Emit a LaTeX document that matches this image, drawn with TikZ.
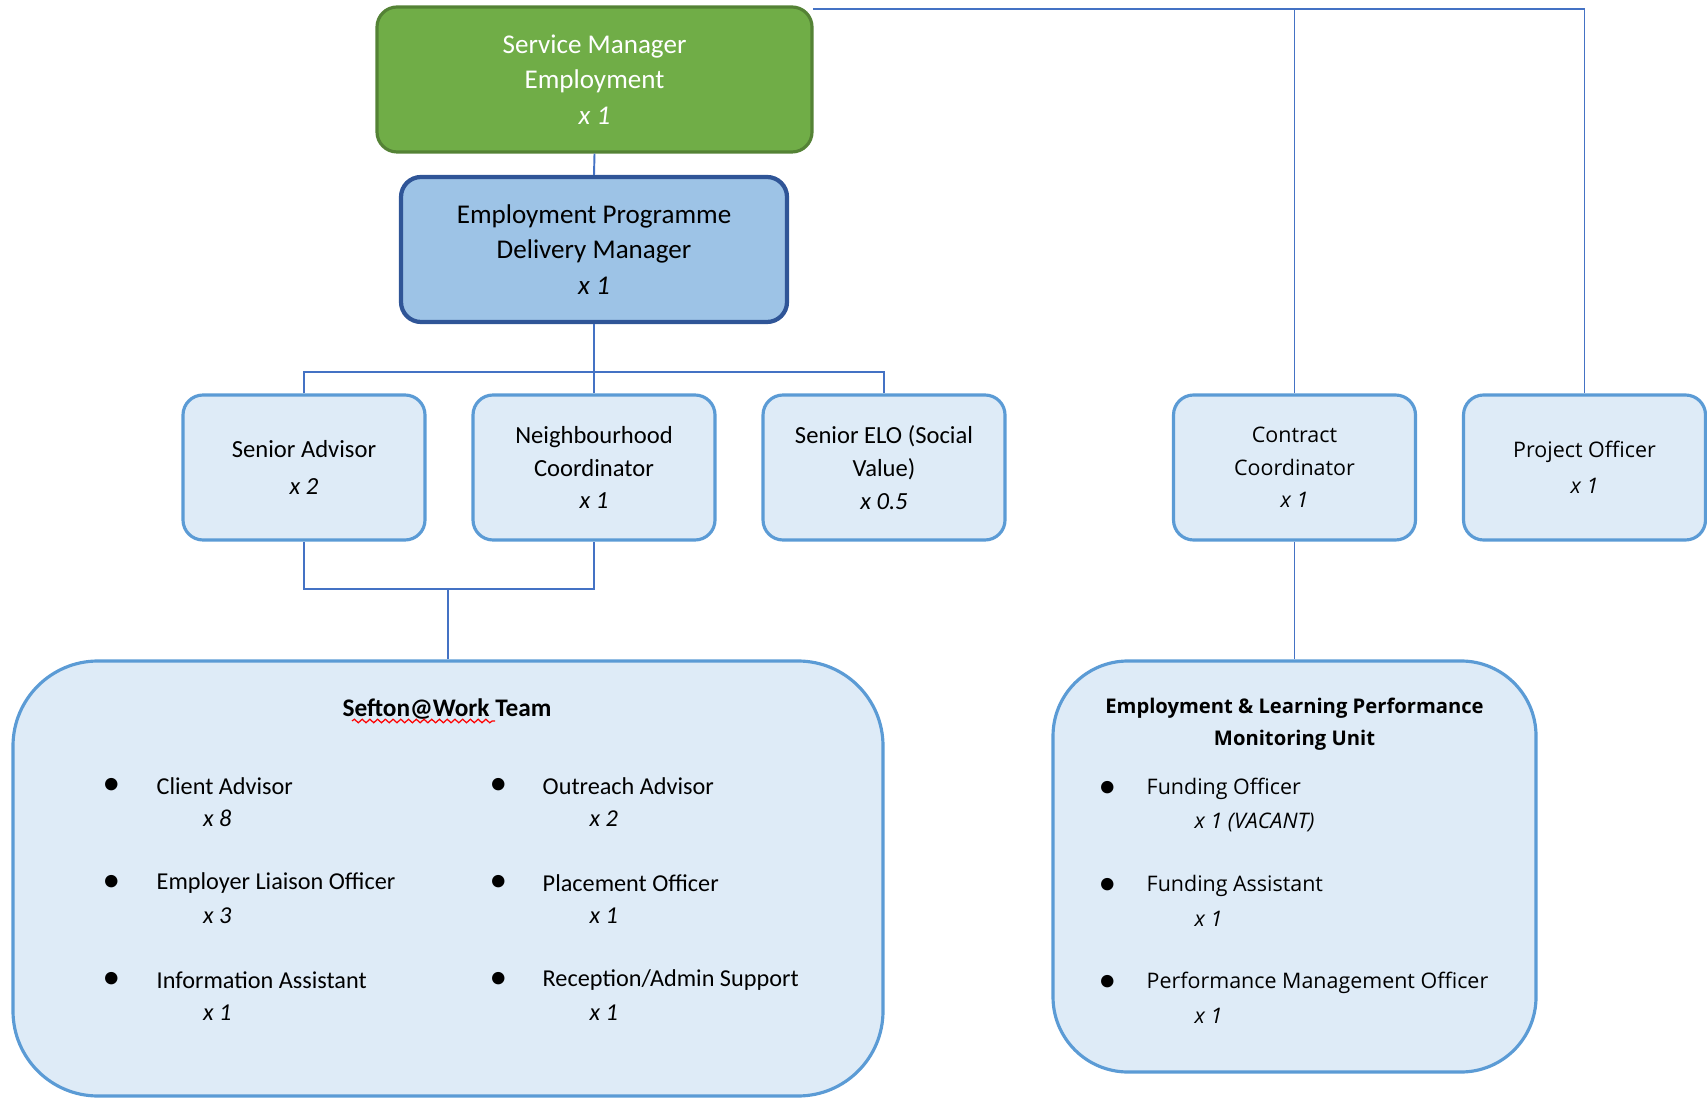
\documentclass[tikz,border=0pt]{standalone}
\usepackage{fontspec}
\setmainfont{Carlito}
\newfontfamily\widefont{Open Sans}
\usepackage{xcolor}
\usetikzlibrary{positioning}
\usetikzlibrary{decorations.pathmorphing}
\definecolor{smfill}{HTML}{70AD47}
\definecolor{smline}{HTML}{548235}
\definecolor{epdmfill}{HTML}{9DC3E6}
\definecolor{epdmline}{HTML}{2F5597}
\definecolor{rolefill}{HTML}{DEEBF7}
\definecolor{roleline}{HTML}{5B9BD5}
\definecolor{linkblue}{HTML}{4472C4}
\tikzset{
boxedge/.style={line width=0.9pt},
headbox/.style 2 args={
	draw=#1, fill=#2, boxedge,
	rounded corners=0.2cm, align=center,
	minimum height=1.45cm,
	font=\fontsize{7.7}{10.1}\selectfont
},
rolebox/.style={
	draw=roleline, fill=rolefill, boxedge,
	rounded corners=0.2cm, align=center,
	minimum width=2.42cm, minimum height=1.45cm,
	font=\fontsize{7}{9.3}\selectfont
},
widebox/.style={
	rolebox, font=\widefont\fontsize{6.1}{9.3}\selectfont
},
teambox/.style n args={3}{
	draw=roleline, fill=rolefill, boxedge,
	rounded corners=#3,
	minimum width=#1, minimum height=#2
},
link/.style={draw=linkblue, line width=0.55pt},
item/.style={anchor=west, inner sep=0pt},
spellmark/.style={
	draw=red, line width=0.35pt,
	decoration={snake, amplitude=0.5pt, segment length=2.2pt},
	decorate
},
}

\begin{document}
\begin{tikzpicture}[node distance=2.9cm]
\useasboundingbox (0,0) rectangle (17.07,-10.98);
%Place the nodes
\node[headbox={smline}{smfill}, text=white, minimum width=4.35cm] (sm) at (5.945,-0.795) {Service Manager\\Employment\\\textit{x 1}};
\node[headbox={epdmline}{epdmfill}, minimum width=3.86cm, line width=1.2pt] (epdm) at (5.94,-2.495) {Employment Programme\\Delivery Manager\\\textit{x 1}};

\node[rolebox] (nc) at (5.94,-4.675) {Neighbourhood\\Coordinator\\\textit{x 1}};
\node[rolebox, left of=nc] (sa) {Senior Advisor\\[1pt]\textit{x 2}};
\node[rolebox, right of=nc] (elo) {Senior ELO (Social\\Value)\\\textit{x 0.5}};
\node[widebox] (cc) at (12.945,-4.675) {Contract\\Coordinator\\\textit{x 1}};
\node[widebox, right of=cc] (po) {Project Officer\\[1pt]\textit{x 1}};

\node[teambox={8.70cm}{4.35cm}{0.85cm}] (sefton) at (4.48,-8.785) {};
\node[teambox={4.83cm}{4.11cm}{0.75cm}] (elpmu) at (12.945,-8.665) {};

\coordinate (top) at (8.13,-0.09);
\coordinate (bus) at (5.94,-3.72);
\coordinate (join) at (4.48,-5.89);

%
\draw[link] (top) -| (po.north);
\draw[link] (top) -| (cc.north);
\draw[link] (sm.south) -- (epdm.north);
\draw[link] (epdm.south) -- (nc.north);
\draw[link] (sa.north) |- (bus) -| (elo.north);

%
\draw[link] (sa.south) |- (join) -| (nc.south);
\draw[link] (join) -- (sefton.north);
\draw[link] (cc.south) -- (elpmu.north);

%Sefton@Work Team
\node[font=\fontsize{7.2}{9.3}\selectfont\bfseries] (st) at (4.47,-7.09) {Sefton@Work Team};
\draw[spellmark] ([shift={(-0.95,-0.12)}]st.center) -- ++(1.43,0);

\foreach \j/\txt/\num in {0/Client Advisor/8, 1/Employer Liaison Officer/3, 2/Information Assistant/1} {
	\node[item] (sl\j) at (1.02,{-7.86-0.97*\j}) {\textbullet};
	\node[item, font=\fontsize{6.9}{9.3}\selectfont] (sa\j) at (1.56,{-7.86-0.97*\j}) {\txt};
	\node[item, font=\fontsize{6.9}{9.3}\selectfont\itshape] (sn\j) at (2.025,{-8.185-0.97*\j}) {x \num};
}
\foreach \j/\txt/\num in {0/Outreach Advisor/2, 1/Placement Officer/1, 2/{Reception/Admin Support}/1} {
	\node[item] (rl\j) at (4.89,{-7.86-0.97*\j}) {\textbullet};
	\node[item, font=\fontsize{6.9}{9.3}\selectfont] (ra\j) at (5.42,{-7.86-0.97*\j}) {\txt};
	\node[item, font=\fontsize{6.9}{9.3}\selectfont\itshape] (rn\j) at (5.89,{-8.185-0.97*\j}) {x \num};
}

%Performance Monitoring Unit
\node[align=center, font=\widefont\fontsize{5.75}{9}\selectfont\bfseries] (et) at (12.945,-7.245) {Employment \& Learning Performance\\Monitoring Unit};
\foreach \j/\txt/\num in {0/Funding Officer/{1 (VACANT)}, 1/Funding Assistant/1, 2/Performance Management Officer/1} {
	\node[item] (el\j) at (10.98,{-7.89-0.97*\j}) {\textbullet};
	\node[item, font=\widefont\fontsize{6.1}{9.3}\selectfont] (ea\j) at (11.46,{-7.89-0.97*\j}) {\txt};
	\node[item, font=\widefont\fontsize{6.1}{9.3}\selectfont\itshape] (en\j) at (11.94,{-8.22-0.97*\j}) {x \num};
}

\end{tikzpicture}
\end{document}
